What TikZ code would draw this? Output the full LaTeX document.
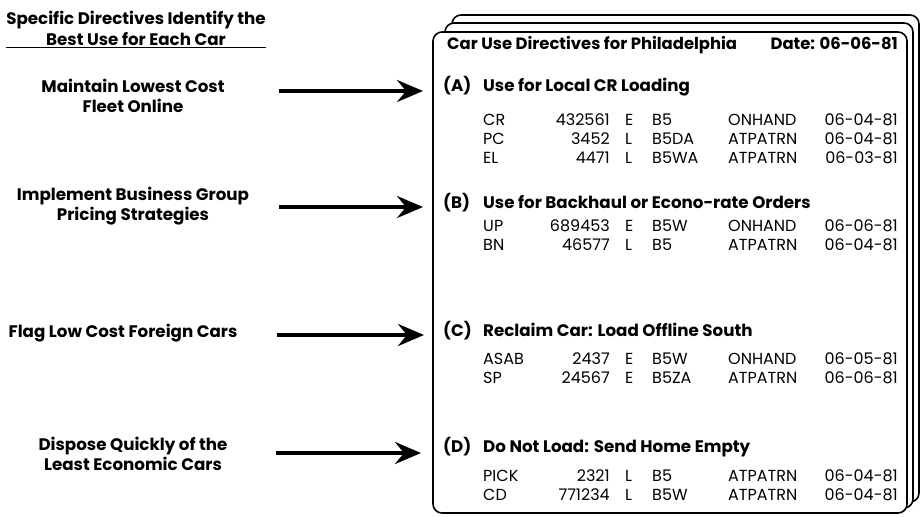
\documentclass[tikz,border=0pt]{standalone}
\usepackage{fontspec}
\setmainfont{Poppins}
\usetikzlibrary{arrows.meta}
\begin{document}
\begin{tikzpicture}[x=1pt,y=-1pt,
  lbl/.style={font=\bfseries\fontsize{16.7}{20.5}\selectfont, align=center, inner sep=0pt},
  cell/.style={font=\fontsize{16}{18}\selectfont, inner sep=0pt},
  head/.style={font=\bfseries\fontsize{16.7}{19}\selectfont, inner sep=0pt},
  hdrs/.style={font=\bfseries\fontsize{16.4}{19}\selectfont, inner sep=0pt},
  card/.style={draw, line width=1.6pt, rounded corners=9pt, fill=white},
  arr/.style={line width=4pt, -{Stealth[length=26pt,width=22pt,inset=9pt]}}]
\useasboundingbox (0,0) rectangle (922,517);

% left column
\node[lbl] (title) at (136,28.5) {Specific Directives Identify the\\Best Use for Each Car};
\draw[line width=1.5pt] ([yshift=-2pt]title.south west) -- ([yshift=-2pt]title.south east);
\node[lbl] (l1) at (133,96) {Maintain Lowest Cost\\Fleet Online};
\node[lbl] (l2) at (133,206) {Implement Business Group\\Pricing Strategies};
\node[lbl] (l3) at (123,333) {Flag Low Cost Foreign Cars};
\node[lbl] (l4) at (133,454) {Dispose Quickly of the\\Least Economic Cars};

% cards
\draw[card] (452,15) rectangle (919,502);
\draw[card] (445,23) rectangle (913,508);
\draw[card] (433,32) rectangle (907,513);

\node[hdrs, anchor=mid west] (hdr) at (447,47) {Car Use Directives for Philadelphia};
\node[hdrs, anchor=mid east] (date) at (898,47) {Date: 06-06-81};

% sections
\node[head, anchor=mid west] (kA) at (443,89) {(A)};
\node[head, anchor=mid west] (hA) at (483,89) {Use for Local CR Loading};
\node[head, anchor=mid west] (kB) at (443,206) {(B)};
\node[head, anchor=mid west] (hB) at (483,206) {Use for Backhaul or Econo-rate Orders};
\node[head, anchor=mid west] (kC) at (443,334) {(C)};
\node[head, anchor=mid west] (hC) at (483,334) {Reclaim Car: Load Offline South};
\node[head, anchor=mid west] (kD) at (443,450) {(D)};
\node[head, anchor=mid west] (hD) at (483,450) {Do Not Load: Send Home Empty};

% rows
\foreach \y/\a/\b/\c/\d/\e/\f/\n in {
  123/CR/432561/E/B5/ONHAND/06-04-81/r1,
  142/PC/3452/L/B5DA/ATPATRN/06-04-81/r2,
  161/EL/4471/L/B5WA/ATPATRN/06-03-81/r3,
  229/UP/689453/E/B5W/ONHAND/06-06-81/r4,
  248/BN/46577/L/B5/ATPATRN/06-04-81/r5,
  362/ASAB/2437/E/B5W/ONHAND/06-05-81/r6,
  381/SP/24567/E/B5ZA/ATPATRN/06-06-81/r7,
  479/PICK/2321/L/B5/ATPATRN/06-04-81/r8,
  498/CD/771234/L/B5W/ATPATRN/06-04-81/r9}{
  \node[cell, anchor=mid west] (\n a) at (483,\y) {\a};
  \node[cell, anchor=mid east] (\n b) at (610,\y) {\b};
  \node[cell, anchor=mid west] (\n c) at (625,\y) {\c};
  \node[cell, anchor=mid west] (\n d) at (652,\y) {\d};
  \node[cell, anchor=mid west] (\n e) at (728,\y) {\e};
  \node[cell, anchor=mid east] (\n f) at (898,\y) {\f};
}

% arrows
\coordinate (s1) at (279,91);  \coordinate (e1) at (423,91);
\coordinate (s2) at (279,207); \coordinate (e2) at (423,207);
\coordinate (s3) at (277,335); \coordinate (e3) at (424,335);
\coordinate (s4) at (276,453); \coordinate (e4) at (421,453);
\draw[arr] (s1) -- (e1);
\draw[arr] (s2) -- (e2);
\draw[arr] (s3) -- (e3);
\draw[arr] (s4) -- (e4);
\end{tikzpicture}
\end{document}
